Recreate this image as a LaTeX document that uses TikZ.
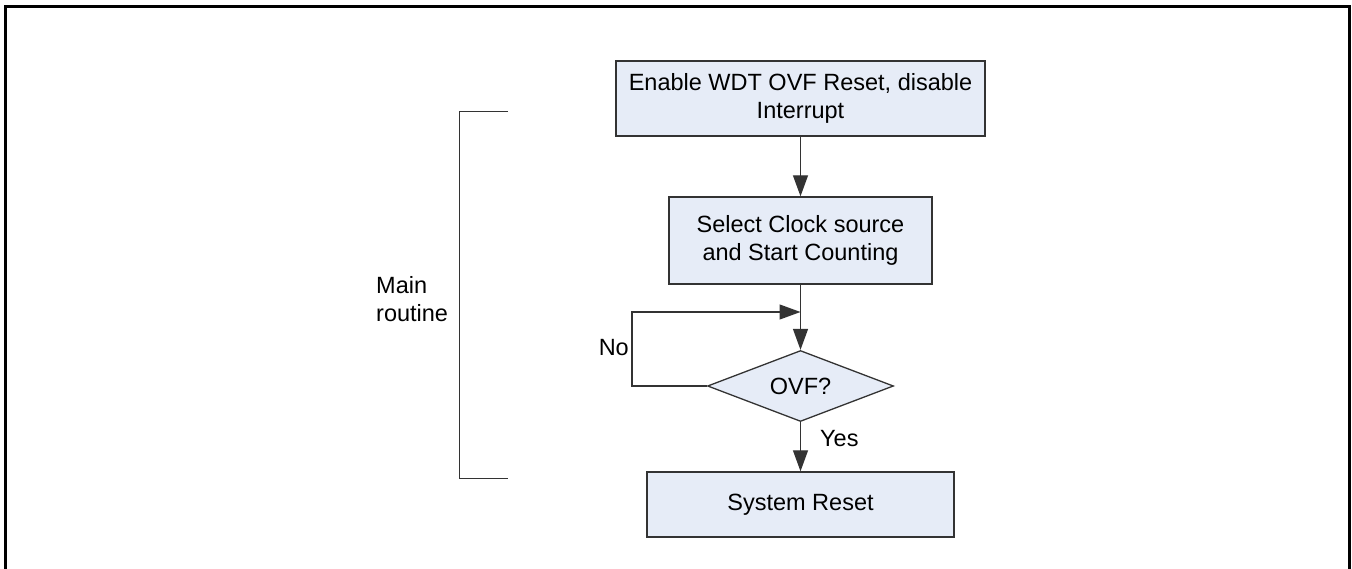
\documentclass[tikz,border=0pt]{standalone}
\usepackage{fontspec}
\setmainfont{Liberation Sans}
\usetikzlibrary{shapes.geometric,arrows.meta}
\definecolor{boxfill}{HTML}{E6ECF7}
\definecolor{lineclr}{HTML}{333333}
\tikzset{
  procbox/.style={draw=lineclr, line width=1.4pt, fill=boxfill, align=center, inner sep=0pt,
    font=\fontsize{23.5}{27.7}\selectfont},
  decbox/.style={draw=lineclr, line width=1.3pt, fill=boxfill, shape=diamond, inner sep=0pt, aspect=2.6,
    font=\fontsize{23.5}{27.7}\selectfont},
  conn/.style={draw=lineclr, line width=1.3pt, -{Triangle[length=21pt,width=15pt]}},
  lbl/.style={font=\fontsize{23.5}{27.7}\selectfont, inner sep=0pt},
}
\begin{document}
\begin{tikzpicture}[x=1pt,y=-1pt]
\useasboundingbox (0,0) rectangle (1352,569);
% frame
\draw[line width=3pt] (5,570) -- (5,7) -- (1349,7) -- (1349,570);
% nodes
\node[procbox, minimum width=369pt, minimum height=75pt] (enable) at (800.5,98.5) {Enable WDT OVF Reset, disable\\Interrupt};
\node[procbox, minimum width=263pt, minimum height=87pt] (select) at (800.5,240.5) {Select Clock source\\and Start Counting};
\node[decbox, minimum width=186pt, minimum height=71pt] (ovf) at (800.5,386) {OVF?};
\node[procbox, minimum width=307pt, minimum height=65pt] (reset) at (800.5,504.5) {System Reset};
\coordinate (join) at (800.5,312);
\coordinate (loopl) at (632,386);
\coordinate (loopt) at (632,312);
% connectors
\draw[conn] (enable) -- (select);
\draw[conn] (select) -- (ovf);
\draw[conn] (ovf.west) -- (loopl) -- (loopt) -- (join);
\draw[conn] (ovf) -- (reset);
% labels
\node[lbl, anchor=east] (no) at (629,348) {No};
\node[lbl, anchor=west] (yes) at (820,439) {Yes};
\node[lbl, anchor=west, align=left] (mainr) at (376,299) {Main\\routine};
% bracket
\coordinate (bt) at (508,112);
\coordinate (bb) at (508,478);
\draw[line width=1pt, lineclr] (bt) -- (459,112) -- (459,478) -- (bb);
\end{tikzpicture}
\end{document}
